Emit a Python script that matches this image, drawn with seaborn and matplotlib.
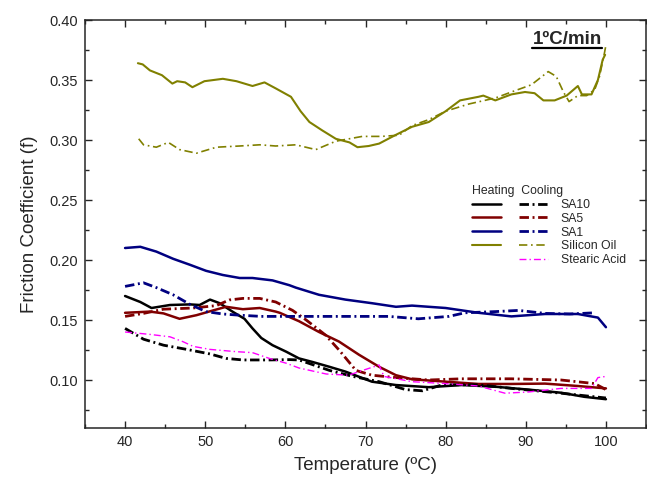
import numpy as np
import pandas as pd
import matplotlib
matplotlib.use('Agg')
import matplotlib.pyplot as plt
from matplotlib.ticker import MultipleLocator, FormatStrFormatter
import seaborn as sns

# ==============================================================
# style
# ==============================================================
sns.set_style('ticks')
plt.rcParams['font.family'] = ['Liberation Sans', 'DejaVu Sans']

# ==============================================================
# data (temperature in C, friction coefficient)
# ==============================================================
so_h_t = [41.6, 42.2, 43.1, 44.6, 45.9, 46.5, 47.5, 48.4, 49.9, 52.2, 53.9, 55.9, 57.4, 58.8,
          60.7, 61.9, 63.0, 64.6, 66.3, 68.0, 69.0, 70.4, 71.7, 73.7, 75.8, 77.9, 80.0, 81.8,
          84.1, 84.7, 86.2, 88.2, 89.9, 91.1, 92.2, 93.6, 95.1, 96.5, 97.0, 98.2, 99.0, 99.6, 99.9]
so_h_f = [0.364, 0.363, 0.358, 0.354, 0.347, 0.349, 0.348, 0.344, 0.349, 0.351, 0.349, 0.345,
          0.348, 0.343, 0.336, 0.324, 0.315, 0.308, 0.301, 0.298, 0.294, 0.295, 0.297, 0.304,
          0.311, 0.315, 0.324, 0.333, 0.336, 0.337, 0.333, 0.338, 0.340, 0.339, 0.333, 0.333,
          0.337, 0.345, 0.338, 0.338, 0.350, 0.367, 0.371]

so_c_t = [41.7, 42.3, 43.9, 45.4, 46.8, 48.9, 51.4, 54.3, 56.8, 58.8, 61.3, 63.8, 66.3, 69.6,
          72.0, 74.2, 75.8, 77.9, 80.0, 82.9, 86.2, 88.2, 90.7, 92.8, 93.8, 94.7, 95.4, 96.5,
          97.6, 98.6, 99.2, 99.8, 100.0]
so_c_f = [0.301, 0.296, 0.294, 0.298, 0.292, 0.289, 0.294, 0.295, 0.296, 0.295, 0.296, 0.292,
          0.299, 0.303, 0.303, 0.304, 0.312, 0.317, 0.324, 0.330, 0.335, 0.340, 0.346, 0.357,
          0.353, 0.340, 0.332, 0.337, 0.337, 0.342, 0.353, 0.372, 0.379]

sa1_h_t = [40.0, 41.9, 43.9, 46.0, 48.1, 50.1, 52.2, 54.3, 55.9, 58.4, 60.5, 61.3, 64.2, 67.5,
           70.8, 73.8, 75.8, 80.0, 84.1, 88.2, 92.4, 96.5, 99.0, 100.0]
sa1_h_f = [0.210, 0.211, 0.207, 0.201, 0.196, 0.191, 0.1875, 0.185, 0.185, 0.183, 0.179, 0.177,
           0.171, 0.167, 0.164, 0.161, 0.162, 0.160, 0.156, 0.153, 0.155, 0.155, 0.152, 0.144]

sa1_c_t = [40.0, 42.3, 43.9, 46.0, 48.1, 50.1, 52.2, 54.3, 57.0, 60.5, 64.0, 67.5, 72.9, 76.6,
           80.4, 82.4, 86.2, 89.1, 92.4, 95.5, 98.6]
sa1_c_f = [0.178, 0.181, 0.177, 0.171, 0.163, 0.157, 0.155, 0.154, 0.153, 0.153, 0.153, 0.153,
           0.153, 0.151, 0.153, 0.156, 0.157, 0.158, 0.1555, 0.155, 0.156]

sa10_h_t = [40.0, 41.9, 43.3, 45.6, 48.1, 49.3, 50.6, 51.8, 53.4, 54.9, 55.9, 57.0, 58.4, 60.1,
            61.7, 63.4, 65.5, 67.5, 70.8, 73.8, 77.9, 82.0, 86.2, 90.3, 94.4, 97.3, 100.0]
sa10_h_f = [0.170, 0.165, 0.160, 0.1625, 0.163, 0.1625, 0.167, 0.164, 0.157, 0.151, 0.143, 0.135,
            0.129, 0.1236, 0.118, 0.115, 0.111, 0.107, 0.0986, 0.0958, 0.094, 0.0958, 0.0944,
            0.092, 0.0894, 0.086, 0.084]

sa10_c_t = [40.0, 42.3, 44.8, 47.7, 50.6, 52.6, 54.7, 58.0, 60.5, 61.7, 65.5, 68.4, 71.7, 75.0,
            77.1, 79.6, 84.1, 88.2, 94.4, 100.0]
sa10_c_f = [0.143, 0.134, 0.129, 0.1255, 0.1217, 0.118, 0.1167, 0.1167, 0.117, 0.1167, 0.108,
            0.103, 0.0986, 0.092, 0.091, 0.096, 0.096, 0.093, 0.089, 0.085]

sa5_h_t = [40.0, 43.1, 44.8, 46.8, 48.9, 51.0, 52.6, 54.7, 56.8, 58.8, 59.3, 61.7, 64.2, 66.7,
           69.2, 71.7, 73.8, 75.8, 80.0, 84.1, 88.2, 92.4, 96.5, 100.0]
sa5_h_f = [0.156, 0.157, 0.1555, 0.151, 0.154, 0.158, 0.161, 0.159, 0.160, 0.157, 0.156, 0.149,
           0.140, 0.132, 0.121, 0.111, 0.104, 0.1006, 0.0986, 0.0967, 0.0967, 0.097, 0.095, 0.093]

sa5_c_t = [40.0, 42.3, 44.8, 48.5, 51.4, 53.0, 54.7, 56.8, 58.8, 60.9, 62.6, 65.0, 66.7, 68.8,
           70.8, 73.8, 77.9, 82.0, 88.2, 94.4, 98.6, 100.0]
sa5_c_f = [0.153, 0.1555, 0.159, 0.160, 0.162, 0.1667, 0.168, 0.168, 0.165, 0.158, 0.150,
           0.1375, 0.125, 0.108, 0.104, 0.102, 0.100, 0.101, 0.101, 0.100, 0.097, 0.092]

st_c_t = [40.0, 43.1, 45.6, 47.2, 48.5, 50.6, 53.9, 55.9, 58.0, 60.1, 61.7, 65.1, 67.9, 69.2,
          71.7, 72.3, 75.8, 80.0, 84.1, 87.4, 90.3, 94.4, 98.2, 99.0, 100.0]
st_c_f = [0.140, 0.138, 0.136, 0.132, 0.128, 0.1255, 0.1236, 0.1228, 0.118, 0.114, 0.110, 0.105,
          0.104, 0.107, 0.1125, 0.103, 0.0986, 0.097, 0.095, 0.089, 0.090, 0.093, 0.093, 0.102,
          0.103]

sample_names = ['SA10', 'SA5', 'SA1', 'Silicon Oil', 'Stearic Acid']

# ==============================================================
# figure
# ==============================================================
fig = plt.figure(figsize=(6.47, 4.84), dpi=100)
ax = fig.add_axes([85 / 647, 56 / 484, 561 / 647, 408 / 484])

dd_big = (0, (3.4, 1.3, 0.7, 1.3))
dd_small = (0, (5, 2.2, 1, 2.2))

series = [
    # name, T, f, color, linestyle, lw
    ('SA10 heating', sa10_h_t, sa10_h_f, 'black', '-', 1.8),
    ('SA5 heating', sa5_h_t, sa5_h_f, '#800000', '-', 1.8),
    ('SA1 heating', sa1_h_t, sa1_h_f, '#000080', '-', 1.8),
    ('Silicon Oil heating', so_h_t, so_h_f, '#808000', '-', 1.5),
    ('SA10 cooling', sa10_c_t, sa10_c_f, 'black', dd_big, 2.0),
    ('SA5 cooling', sa5_c_t, sa5_c_f, '#800000', dd_big, 2.0),
    ('SA1 cooling', sa1_c_t, sa1_c_f, '#000080', dd_big, 2.0),
    ('Silicon Oil cooling', so_c_t, so_c_f, '#808000', dd_small, 1.2),
    ('Stearic Acid cooling', st_c_t, st_c_f, '#FF00FF', dd_small, 1.0),
]

handles = {}
for name, t, f, color, ls, lw in series:
    d = pd.DataFrame({'T': t, 'f': f})
    sns.lineplot(data=d, x='T', y='f', ax=ax, color=color, linestyle=ls, lw=lw,
                 sort=False, estimator=None)
    handles[name] = ax.lines[-1]

ax.set_xlim(35, 105)
ax.set_ylim(0.06, 0.40)
ax.set_xticks(range(40, 101, 10))
ax.xaxis.set_minor_locator(MultipleLocator(5))
ax.yaxis.set_major_locator(MultipleLocator(0.05))
ax.yaxis.set_minor_locator(MultipleLocator(0.025))
ax.yaxis.set_major_formatter(FormatStrFormatter('%.2f'))
ax.tick_params(which='both', direction='in', top=True, right=True, width=1.0, labelsize=10.5,
               pad=5)
ax.tick_params(which='major', length=5)
ax.tick_params(which='minor', length=3)
for sp in ax.spines.values():
    sp.set_linewidth(1.1)
    sp.set_visible(True)

ax.set_xlabel('Temperature (ºC)', fontsize=13.5, labelpad=6)
ax.set_ylabel('Friction Coefficient (f)', fontsize=13.5, labelpad=8)

# legend: heating column (no text) + cooling column (with names)
blank = plt.Line2D([], [], color='none')
leg_handles = [handles['SA10 heating'], handles['SA5 heating'], handles['SA1 heating'],
               handles['Silicon Oil heating'], blank,
               handles['SA10 cooling'], handles['SA5 cooling'], handles['SA1 cooling'],
               handles['Silicon Oil cooling'], handles['Stearic Acid cooling']]
leg_labels = [''] * 5 + sample_names
leg = ax.legend(leg_handles, leg_labels, ncol=2, frameon=False, fontsize=8.8,
                handlelength=2.4, handletextpad=1.05, columnspacing=0.35, labelspacing=0.15,
                borderpad=0, title='Heating  Cooling', title_fontsize=8.8, alignment='left',
                loc='upper left', bbox_to_anchor=(466 / 647, 1 - 179 / 484),
                bbox_transform=fig.transFigure)

# rate label, underlined
txt = fig.text(567 / 647, 1 - 39 / 484, '1ºC/min', fontsize=13.5, fontweight='bold',
               ha='center', va='center')
fig.canvas.draw()
bb = txt.get_window_extent().transformed(fig.transFigure.inverted())
fig.add_artist(plt.Line2D([bb.x0, bb.x1], [bb.y0 - 0.002, bb.y0 - 0.002], color='black',
                          lw=1.6, transform=fig.transFigure))

fig.savefig('out.png', dpi=100)
